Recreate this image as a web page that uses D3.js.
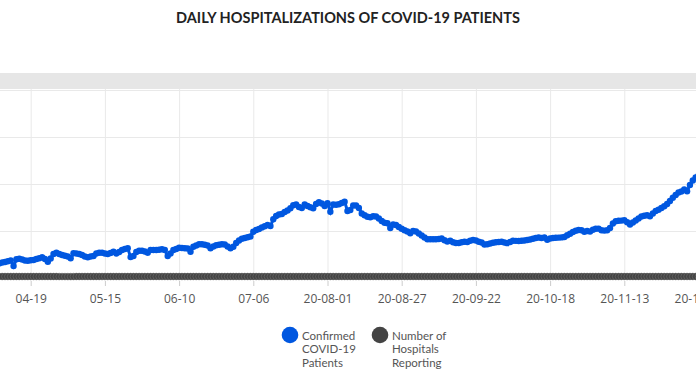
<!DOCTYPE html>
<html>
<head>
<meta charset="utf-8">
<title>Daily hospitalizations</title>
<script src="https://cdn.jsdelivr.net/npm/d3@7/dist/d3.min.js"></script>
<style>
	body { margin: 0; background: #fff; }
	svg { display: block; }
	.title { font-family: Lato, "Open Sans", sans-serif; font-weight: 700; font-size: 14.5px; fill: #222; }
	.xaxis text { font-family: "Open Sans", sans-serif; font-size: 12px; fill: #555; }
	.xaxis line { stroke: #ccc; }
	.grid line { stroke: #e9e9e9; }
	.legend text { font-family: Lato, "Open Sans", sans-serif; font-size: 11.5px; fill: #555; }
</style>
</head>
<body>
<svg id="chart" width="696" height="385"></svg>
<script>
// first day of the series, one value per day after that
var startDate = Date.UTC(2020, 3, 7);

var confirmed = [
	300, 310, 330, 340, 355, 372, 255, 398, 411, 394,
	372, 368, 377, 383, 404, 419, 440, 404, 347, 415,
	511, 538, 511, 489, 475, 458, 419, 526, 521, 511,
	489, 458, 440, 458, 468, 521, 538, 538, 521, 511,
	532, 560, 521, 553, 596, 617, 632, 447, 468, 553,
	581, 581, 564, 538, 596, 596, 596, 602, 611, 596,
	468, 521, 596, 617, 645, 638, 632, 628, 560, 666,
	692, 717, 719, 706, 692, 632, 670, 696, 709, 717,
	713, 670, 632, 666, 745, 798, 834, 851, 866, 883,
	985, 1021, 1043, 1075, 1102, 1128, 1107, 1249, 1319, 1351,
	1362, 1404, 1436, 1483, 1549, 1564, 1511, 1490, 1564, 1532,
	1504, 1485, 1575, 1611, 1585, 1532, 1590, 1411, 1564, 1558,
	1568, 1596, 1624, 1426, 1447, 1543, 1543, 1490, 1373, 1334,
	1304, 1292, 1315, 1309, 1266, 1213, 1175, 1164, 1064, 1138,
	1128, 1085, 1047, 1015, 990, 953, 1000, 990, 947, 904,
	862, 826, 824, 824, 824, 830, 841, 804, 775, 792,
	760, 745, 745, 760, 770, 766, 792, 809, 798, 770,
	755, 713, 717, 734, 749, 760, 766, 770, 755, 741,
	766, 792, 790, 787, 792, 798, 809, 819, 834, 851,
	862, 851, 862, 813, 841, 851, 855, 860, 864, 872,
	909, 941, 979, 1004, 1021, 1015, 985, 1000, 987, 1026,
	1047, 1051, 1017, 1009, 1017, 1064, 1160, 1209, 1219, 1221,
	1230, 1187, 1138, 1181, 1224, 1266, 1309, 1324, 1336, 1315,
	1373, 1426, 1453, 1490, 1526, 1575, 1639, 1707, 1766, 1819,
	1841, 1883, 1847, 1979, 2075, 2139, 2181
];

var hospitals = [
	32, 32, 32, 32, 32, 32, 32, 32, 32, 32,
	32, 32, 32, 32, 32, 32, 32, 32, 32, 32,
	32, 32, 31, 31, 30, 30, 30, 31, 32, 32,
	32, 32, 32, 32, 32, 32, 32, 32, 32, 32,
	32, 32, 32, 32, 32, 32, 32, 32, 32, 32,
	32, 32, 32, 32, 32, 32, 32, 32, 32, 32,
	32, 32, 32, 32, 32, 32, 32, 32, 32, 32,
	32, 32, 32, 32, 32, 32, 32, 32, 32, 32,
	32, 32, 32, 32, 32, 32, 32, 32, 32, 32,
	32, 32, 32, 32, 32, 32, 32, 32, 32, 32,
	32, 32, 32, 32, 32, 32, 32, 32, 32, 32,
	32, 32, 32, 32, 32, 32, 32, 32, 32, 32,
	32, 32, 32, 32, 32, 32, 32, 32, 32, 32,
	32, 32, 32, 32, 32, 32, 32, 32, 32, 32,
	32, 32, 32, 32, 32, 32, 32, 32, 32, 32,
	32, 32, 32, 32, 32, 32, 32, 32, 32, 32,
	32, 32, 32, 32, 32, 32, 32, 32, 32, 32,
	32, 32, 32, 32, 32, 32, 32, 32, 32, 32,
	32, 32, 32, 32, 32, 32, 32, 32, 32, 32,
	32, 32, 32, 32, 32, 32, 32, 32, 32, 32,
	32, 32, 32, 32, 32, 32, 32, 32, 32, 32,
	32, 32, 32, 32, 32, 32, 32, 32, 32, 32,
	32, 32, 32, 32, 32, 32, 32, 32, 32, 32,
	32, 32, 32, 32, 32, 32, 32, 32, 32, 32,
	32, 32, 32, 32, 32, 32, 32
];

var tickDates = ['2020-04-19', '2020-05-15', '2020-06-10', '2020-07-06',
	'2020-08-01', '2020-08-27', '2020-09-22', '2020-10-18', '2020-11-13', '2020-12-09'];
var tickLabels = ['04-19', '05-15', '06-10', '07-06',
	'20-08-01', '20-08-27', '20-09-22', '20-10-18', '20-11-13', '20-12-09'];
var yTicks = [0, 1000, 2000, 3000, 4000];

var legendItems = [
	{ name: ['Confirmed', 'COVID-19', 'Patients'], color: '#0057e0' },
	{ name: ['Number of', 'Hospitals', 'Reporting'], color: '#444444' }
];

var svg = d3.select('#chart'),
	width = +svg.attr('width');

var parse = d3.utcParse('%Y-%m-%d');
var ticks = tickDates.map(parse);

var x = d3.scaleUtc()
	.domain([parse('2020-04-19'), parse('2020-11-13')])
	.range([30.7, 624.3]);

var y = d3.scaleLinear()
	.domain([0, 4000])
	.range([278, 90]);

var day = i => d3.utcDay.offset(new Date(startDate), i);

svg.append('text')
	.attr('class', 'title')
	.attr('x', 348)
	.attr('y', 22.5)
	.attr('text-anchor', 'middle')
	.text('DAILY HOSPITALIZATIONS OF COVID-19 PATIENTS');

// grey band above the plot
svg.append('rect')
	.attr('x', 0).attr('y', 73)
	.attr('width', width).attr('height', 16)
	.attr('fill', '#e6e6e6');

svg.append('g')
	.attr('class', 'grid')
	.call(d3.axisLeft(y).tickValues(yTicks).tickSize(-width).tickFormat(''))
	.call(g => g.select('.domain').remove());

svg.append('g')
	.attr('class', 'grid')
	.attr('transform', 'translate(0,89)')
	.call(d3.axisBottom(x).tickValues(ticks).tickSize(191).tickFormat(''))
	.call(g => g.select('.domain').remove());

svg.append('g')
	.attr('class', 'xaxis')
	.attr('transform', 'translate(0,281)')
	.call(d3.axisBottom(x).tickValues(ticks).tickSize(5).tickPadding(4)
		.tickFormat((d, i) => tickLabels[i]))
	.call(g => g.select('.domain').remove())
	.call(g => g.selectAll('text').attr('dy', '1.05em'));

// number of hospitals reporting
svg.append('g')
	.selectAll('circle')
	.data(hospitals)
	.join('circle')
	.attr('cx', (d, i) => x(day(i)))
	.attr('cy', d => y(d))
	.attr('r', 3.4)
	.attr('fill', '#444')
	.attr('stroke', '#777')
	.attr('stroke-width', 0.5);

// confirmed patients
var line = d3.line()
	.x((d, i) => x(day(i)))
	.y(d => y(d));

svg.append('path')
	.datum(confirmed)
	.attr('d', line)
	.attr('fill', 'none')
	.attr('stroke', '#0057e0')
	.attr('stroke-width', 3);

svg.append('g')
	.selectAll('circle')
	.data(confirmed)
	.join('circle')
	.attr('cx', (d, i) => x(day(i)))
	.attr('cy', d => y(d))
	.attr('r', 3.2)
	.attr('fill', '#0057e0');

var legend = svg.append('g')
	.attr('class', 'legend')
	.selectAll('g')
	.data(legendItems)
	.join('g')
	.attr('transform', (d, i) => 'translate(' + (290 + i * 90) + ',335)');

legend.append('circle')
	.attr('r', 8.3)
	.attr('fill', d => d.color);

legend.append('text')
	.attr('x', 12)
	.attr('y', 5)
	.selectAll('tspan')
	.data(d => d.name)
	.join('tspan')
	.attr('x', 12)
	.attr('dy', (d, i) => i ? 13.4 : 0)
	.text(d => d);
</script>
</body>
</html>
